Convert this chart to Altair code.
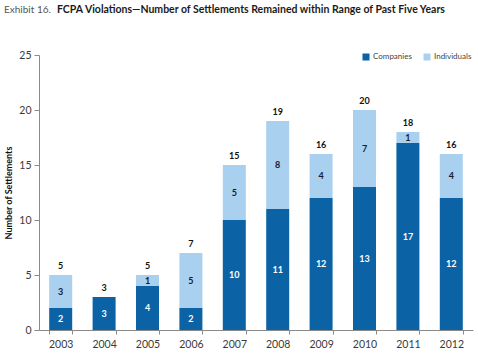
import altair as alt
import pandas as pd

years = ["2003", "2004", "2005", "2006", "2007", "2008", "2009", "2010", "2011", "2012"]
companies = [2, 3, 4, 2, 10, 11, 12, 13, 17, 12]
individuals = [3, 0, 1, 5, 5, 8, 4, 7, 1, 4]
series = ["Companies", "Individuals"]
colors = ["#0b63a5", "#a9d0ef"]

rows = []
for y, c, i in zip(years, companies, individuals):
    rows.append({"year": y, "type": "Companies", "value": c, "ord": 0})
    rows.append({"year": y, "type": "Individuals", "value": i, "ord": 1})
df = pd.DataFrame(rows)

FONT = "Lato, sans-serif"

x = alt.X("year:N", title=None,
          scale=alt.Scale(paddingInner=0.47, paddingOuter=0.235),
          axis=alt.Axis(labelAngle=0, labelFontSize=10.5, labelColor="#3a3a3a", labelFont=FONT,
                        domainColor="#8a8a8a", tickColor="#8a8a8a", tickBand="extent",
                        tickSize=4, labelPadding=5))
yscale = alt.Scale(domain=[0, 25])

base = alt.Chart(df)

bars = base.mark_bar().encode(
    x=x,
    y=alt.Y("value:Q", stack="zero", scale=yscale, title="Number of Settlements",
            axis=alt.Axis(values=[0, 5, 10, 15, 20, 25], grid=False, labelFontSize=10.5,
                          labelColor="#3a3a3a", labelFont=FONT, domainColor="#8a8a8a",
                          tickColor="#8a8a8a", tickSize=5, labelPadding=3,
                          titleFont=FONT, titleFontSize=9, titleFontWeight="bold",
                          titleColor="#111111", titlePadding=5)),
    color=alt.Color("type:N", scale=alt.Scale(domain=series, range=colors), title=None,
                    legend=alt.Legend(orient="none", legendX=323, legendY=-2, direction="horizontal",
                                      symbolType="square", symbolSize=49, symbolStrokeWidth=0,
                                      labelFontSize=8, labelFont=FONT, labelColor="#444444",
                                      labelOffset=3, columnPadding=11, symbolOffset=0)),
    order=alt.Order("ord:Q"),
)

seg = base.transform_stack(
    stack="value", groupby=["year"], as_=["y0", "y1"], sort=[alt.SortField("ord", order="ascending")]
).transform_calculate(
    mid="(datum.y0 + datum.y1) / 2"
).transform_filter("datum.value > 0")

seg_text = seg.mark_text(font=FONT, fontSize=9, fontWeight="bold", baseline="middle").encode(
    x=x,
    y=alt.Y("mid:Q", scale=yscale),
    text=alt.Text("value:Q"),
    color=alt.Color("type:N", scale=alt.Scale(domain=series, range=["#ffffff", "#1a1a2a"]), legend=None),
)

totals = base.transform_aggregate(total="sum(value)", groupby=["year"]).mark_text(
    font=FONT, fontSize=9, fontWeight="bold", baseline="bottom", dy=-4, color="#111111"
).encode(
    x=x,
    y=alt.Y("total:Q", scale=yscale),
    text=alt.Text("total:Q"),
)

tdata = alt.Data(values=[{"a": 1}])
title1 = alt.Chart(tdata).mark_text(font=FONT, fontSize=10, color="#555555", align="left",
                                    baseline="middle").encode(
    x=alt.value(-35), y=alt.value(-45), text=alt.value("Exhibit 16."))
title2 = alt.Chart(tdata).mark_text(font=FONT, fontSize=10.5, fontWeight="bold", color="#1a1a1a",
                                    align="left", baseline="middle").encode(
    x=alt.value(18), y=alt.value(-45),
    text=alt.value("FCPA Violations\u2014Number of Settlements Remained within Range of Past Five Years"))

chart = alt.layer(bars, seg_text, totals, title1, title2).resolve_scale(color="independent").properties(
    width=434, height=275,
    autosize=alt.AutoSizeParams(type="none"),
    padding={"left": 39, "top": 55, "right": 5, "bottom": 24},
).configure_view(stroke=None)

chart.save("out.html", embed_options={"renderer": "svg", "actions": False})
